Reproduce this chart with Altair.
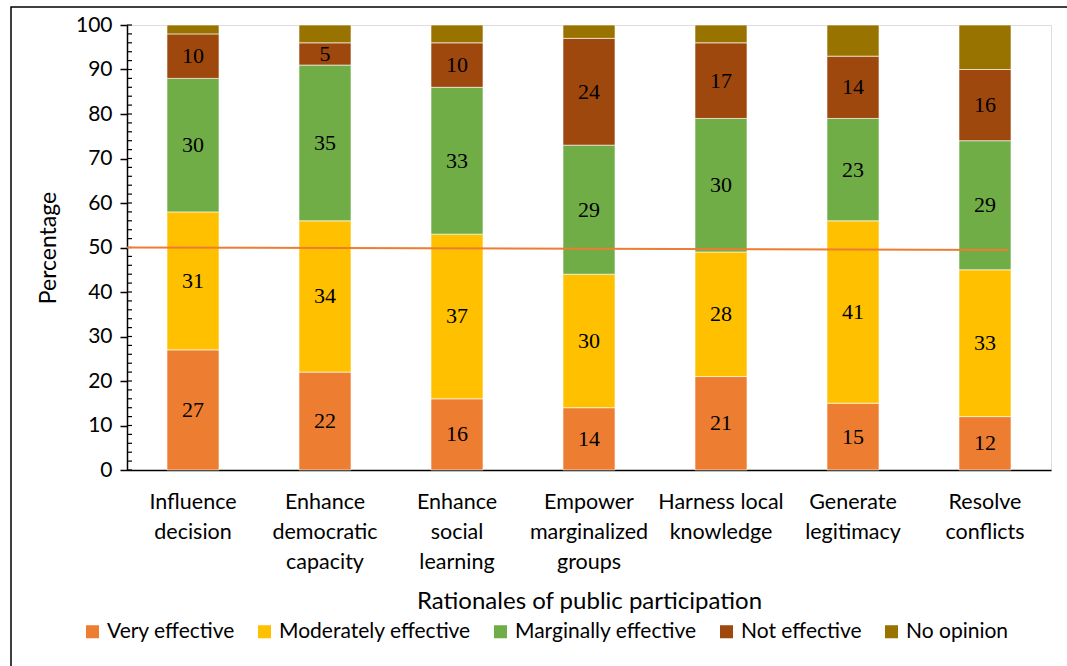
import altair as alt
import pandas as pd

categories = ["Influence|decision", "Enhance|democratic|capacity", "Enhance|social|learning",
              "Empower|marginalized|groups", "Harness local|knowledge", "Generate|legitimacy",
              "Resolve|conflicts"]
series = ["Very effective", "Moderately effective", "Marginally effective", "Not effective", "No opinion"]
colors = ["#ED7D31", "#FFC000", "#70AD47", "#9E480E", "#997300"]

very = [27, 22, 16, 14, 21, 15, 12]
moderately = [31, 34, 37, 30, 28, 41, 33]
marginally = [30, 35, 33, 29, 30, 23, 29]
not_eff = [10, 5, 10, 24, 17, 14, 16]
no_opinion = [2, 4, 4, 3, 4, 7, 10]

minor_ticks = list(range(0, 101, 2))
ref_start, ref_end = 50.0, 49.45

rows = []
for i, c in enumerate(categories):
    base = 0
    for j, (s, vals) in enumerate(zip(series, [very, moderately, marginally, not_eff, no_opinion])):
        v = vals[i]
        rows.append({"cat": c, "series": s, "order": j, "value": v, "mid": base + v / 2,
                     "label": str(v) if j < 4 else ""})
        base += v
df = pd.DataFrame(rows)

W, H = 924, 445
FONT = "Lato"

x_enc = alt.X("cat:N", sort=categories, title="Rationales of public participation",
              scale=alt.Scale(paddingInner=0.606, paddingOuter=0.303),
              axis=alt.Axis(labelExpr="split(datum.value, '|')", labelAngle=0, ticks=False,
                            labelFont=FONT, labelFontSize=21.5, labelColor="#000",
                            labelLineHeight=30, labelPadding=21, labelBaseline="top",
                            titleFont=FONT, titleFontSize=24, titleFontWeight="normal",
                            titleColor="#000", titlePadding=17, domainColor="#000",
                            domainWidth=1.5))

bars = alt.Chart(df).mark_bar(stroke="#ffffff", strokeWidth=1, strokeOpacity=0.6).encode(
    x=x_enc,
    y=alt.Y("value:Q", stack="zero", title="Percentage",
            scale=alt.Scale(domain=[0, 100], nice=False),
            axis=alt.Axis(values=list(range(0, 101, 10)), grid=False, tickSize=7,
                          tickColor="#000", tickWidth=1.5, domainColor="#000", domainWidth=1.5,
                          labelFont=FONT, labelFontSize=21, labelColor="#000", labelPadding=8,
                          titleFont=FONT, titleFontSize=23, titleFontWeight="normal",
                          titleColor="#000", titlePadding=15)),
    color=alt.Color("series:N", sort=series, scale=alt.Scale(domain=series, range=colors),
                    legend=alt.Legend(title=None, orient="none", direction="horizontal",
                                      columns=5, legendX=-45, legendY=596, padding=0,
                                      symbolType="square", symbolSize=170,
                                      symbolStrokeWidth=0, labelFont=FONT, labelFontSize=21,
                                      labelColor="#000", labelOffset=4, columnPadding=19,
                                      labelLimit=400)),
    order=alt.Order("order:Q"),
)

texts = alt.Chart(df).mark_text(font="Liberation Serif", fontSize=22, color="#000").encode(
    x=alt.X("cat:N", sort=categories),
    y=alt.Y("mid:Q"),
    text="label:N",
)

minor = alt.Chart(pd.DataFrame({"t": minor_ticks})).mark_rule(color="#000", strokeWidth=1.2).encode(
    y="t:Q", x=alt.value(0), x2=alt.value(5))

ref = alt.Chart(pd.DataFrame({"a": [ref_start], "b": [ref_end]})).mark_rule(
    color="#ED7D31", strokeWidth=2).encode(
    y="a:Q", y2="b:Q", x=alt.value(0), x2=alt.value(881))

frame = alt.Chart(pd.DataFrame({"k": [0]})).mark_rect(
    fill=None, stroke="#000", strokeWidth=1.5, clip=False).encode(
    x=alt.value(-116), x2=alt.value(1000), y=alt.value(-18), y2=alt.value(700))

chart = alt.layer(frame, bars, texts, minor, ref).properties(
    width=W, height=H,
    autosize=alt.AutoSizeParams(type="none"),
    padding={"left": 127, "top": 25, "right": 16, "bottom": 196},
).configure_view(stroke=None).configure(background="#ffffff")

chart.save("out.html", embed_options={"renderer": "svg", "actions": False})
